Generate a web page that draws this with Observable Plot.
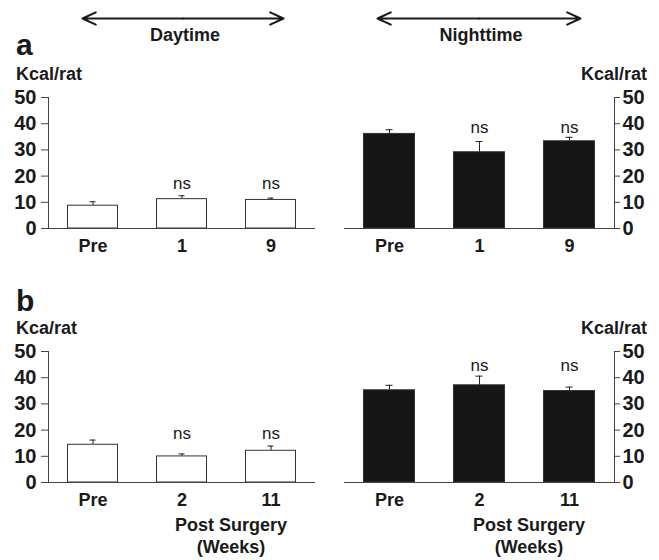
<!DOCTYPE html>
<html><head><meta charset="utf-8">
<script src="https://cdn.jsdelivr.net/npm/d3@7"></script>
<script src="https://cdn.jsdelivr.net/npm/@observablehq/plot@0.6"></script>
<style>
body{margin:0;background:#fff;}
#fig{position:relative;width:659px;height:560px;background:#fff;font-family:"Liberation Sans",Arial,Helvetica,sans-serif;color:#1a1a1a;overflow:hidden;}
.t{position:absolute;font-weight:bold;font-size:18px;line-height:1;white-space:nowrap;}
.p{position:absolute;}
</style></head><body><div id="fig"></div>
<script>
// ---- data ----
const categoriesA = ["Pre", "1", "9"];
const categoriesB = ["Pre", "2", "11"];
const dayA = [8.7, 11.2, 10.9];
const dayAErr = [1.5, 1.3, 0.7];
const nightA = [36.1, 29.1, 33.3];
const nightAErr = [1.6, 4.1, 1.5];
const dayB = [14.4, 9.95, 12.1];
const dayBErr = [1.8, 0.95, 1.8];
const nightB = [35.2, 37.1, 34.9];
const nightBErr = [1.9, 3.5, 1.5];
const sigLabels = ["", "ns", "ns"];
const nsHeight = {dayA: 17.2, nightA: 38.7, dayB: 18.7, nightB: 44.8};
const yTicks = [0, 10, 20, 30, 40, 50];

const fig = document.getElementById("fig");
const FONT = '"Liberation Sans",Arial,Helvetica,sans-serif';
const INK = "#1a1a1a";

function label(text, x, y, anchor = "middle", opts = {}) {
  const d = document.createElement("div");
  d.className = "t";
  d.textContent = text;
  d.style.left = x + "px";
  d.style.top = y + "px";
  const tx = anchor === "start" ? "0" : anchor === "end" ? "-100%" : "-50%";
  d.style.transform = `translate(${tx},-50%)`;
  if (opts.size) d.style.fontSize = opts.size + "px";
  if (opts.weight) d.style.fontWeight = opts.weight;
  fig.appendChild(d);
}

function place(node, left, top) {
  const w = document.createElement("div");
  w.className = "p";
  w.style.left = left + "px";
  w.style.top = top + "px";
  w.appendChild(node);
  fig.appendChild(w);
}

function panel(cats, vals, errs, nsY, fill, side) {
  const rows = cats.map((c, i) => ({cat: c, value: vals[i], err: errs[i], sig: sigLabels[i]}));
  const left = side === "left";
  return Plot.plot({
    width: left ? 330 : 329,
    height: 171,
    marginTop: 10,
    marginBottom: 30,
    marginLeft: left ? 48 : 14,
    marginRight: left ? 15 : 45,
    style: {fontFamily: FONT, color: INK, background: "transparent", overflow: "visible"},
    x: {domain: cats, padding: 0, label: null},
    y: {domain: [0, 50], label: null},
    marks: [
      Plot.axisY({anchor: side, ticks: yTicks, tickSize: left ? 7 : 5, tickPadding: left ? 5 : 3, fontSize: 20, fontWeight: "bold", label: null, stroke: "#444"}),
      Plot.axisX({tickSize: 0, tickPadding: 11, fontSize: 18, fontWeight: "bold", label: null}),
      Plot.frame({anchor: side, stroke: "#444"}),
      Plot.ruleX(rows, {x: "cat", y1: "value", y2: d => d.value + d.err, stroke: "#222", strokeWidth: 1}),
      Plot.tickY(rows, {x: "cat", y: d => d.value + d.err, insetLeft: 41.5, insetRight: 41.5, stroke: "#222", strokeWidth: 1}),
      Plot.barY(rows, {x: "cat", y: "value", fill, stroke: "#333", strokeWidth: 1, insetLeft: 19.5, insetRight: 19.5}),
      Plot.ruleY([0], {stroke: "#444"}),
      Plot.text(rows.filter(d => d.sig), {x: "cat", y: () => nsY, text: "sig", fontSize: 17, fill: INK})
    ]
  });
}

function arrowPlot(len) {
  return Plot.plot({
    width: len + 8, height: 16, margin: 0, marginLeft: 4, marginRight: 4,
    x: {domain: [0, 1], axis: null},
    y: {domain: [0, 1], axis: null},
    style: {background: "transparent", overflow: "visible"},
    marks: [
      Plot.arrow([{a: 0.5, b: 0}, {a: 0.5, b: 1}], {x1: "a", x2: "b", y1: () => 0.5, y2: () => 0.5, stroke: INK, strokeWidth: 2, headLength: 11, headAngle: 50})
    ]
  });
}

// header
place(arrowPlot(201), 78, 10);
place(arrowPlot(203), 373, 10);
label("Daytime", 185, 35);
label("Nighttime", 481, 35);

// panel a
label("a", 16, 45, "start", {size: 30});
label("Kcal/rat", 16, 74, "start");
label("Kcal/rat", 647, 74, "end");
place(panel(categoriesA, dayA, dayAErr, nsHeight.dayA, "white", "left"), 0, 87);
place(panel(categoriesA, nightA, nightAErr, nsHeight.nightA, "#151515", "right"), 330, 87);

// panel b
label("b", 16, 301, "start", {size: 30});
label("Kca/rat", 16, 328, "start");
label("Kcal/rat", 647, 328, "end");
place(panel(categoriesB, dayB, dayBErr, nsHeight.dayB, "white", "left"), 0, 341);
place(panel(categoriesB, nightB, nightBErr, nsHeight.nightB, "#151515", "right"), 330, 341);

label("Post Surgery", 231, 525);
label("(Weeks)", 231, 547);
label("Post Surgery", 529, 525);
label("(Weeks)", 529, 547);
</script></body></html>
